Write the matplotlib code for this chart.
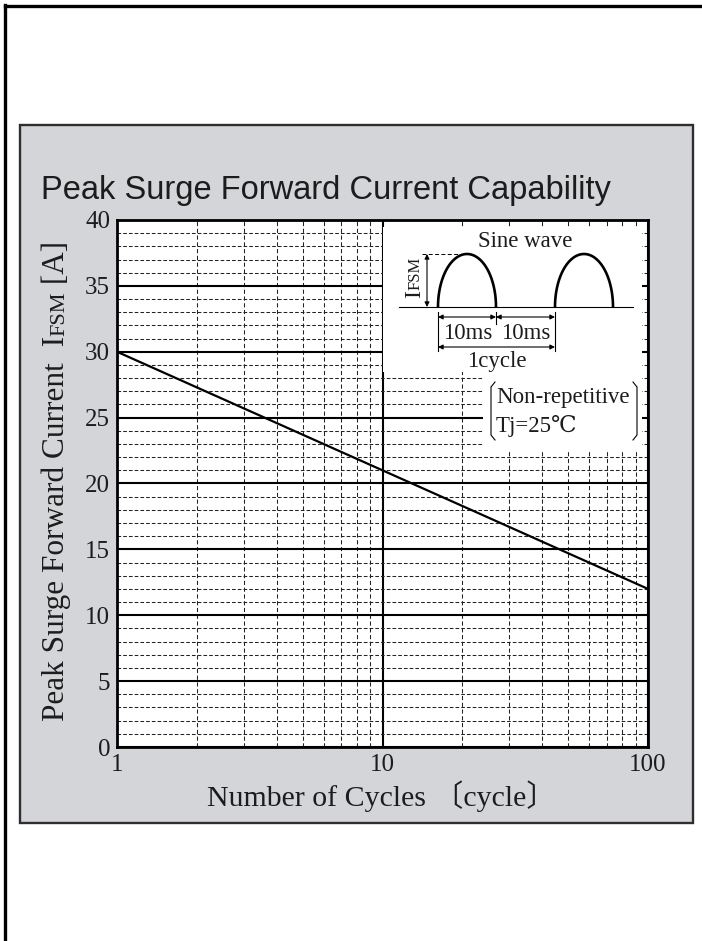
import numpy as np
import matplotlib
matplotlib.use("Agg")
import matplotlib.pyplot as plt
from matplotlib.patches import Rectangle, Polygon
from matplotlib.ticker import LogLocator, MultipleLocator, NullFormatter

# ---------------------------------------------------------------
# chart data
# ---------------------------------------------------------------
cycles = [1, 10, 100]
surge_current = [30.0, 21.0, 12.0]

y_ticks = [0, 5, 10, 15, 20, 25, 30, 35, 40]
x_ticks = [1, 10, 100]
x_tick_labels = ["1", "10", "100"]

title = "Peak Surge Forward Current Capability"
x_label = "Number of Cycles 〔cycle〕"
y_label_parts = ["Peak Surge Forward Current", "  I", "FSM", " [A]"]
note_lines = ["Non-repetitive", "Tj=25℃"]

# ---------------------------------------------------------------
# figure, layers in pixel coordinates
# ---------------------------------------------------------------
W, H = 702, 941
SERIF = ["Liberation Serif", "DejaVu Serif", "Noto Sans CJK JP"]
INK = "#1c1c1c"

fig = plt.figure(figsize=(W / 100, H / 100), dpi=100)
fig.patch.set_facecolor("white")

bg = fig.add_axes([0, 0, 1, 1], zorder=0)
bg.set_xlim(0, W)
bg.set_ylim(H, 0)
bg.axis("off")
bg.add_patch(Rectangle((20, 125), 673, 698, facecolor="#d3d5d8",
                       edgecolor="#2e2e2e", lw=1.7))
bg.plot([5, 5], [5, H], color="k", lw=2.4, solid_capstyle="projecting")
bg.plot([5, W], [6, 6], color="k", lw=2.4, solid_capstyle="projecting")

# main plot
ax = fig.add_axes([117 / W, 1 - 747 / H, (648 - 117) / W, (747 - 220) / H], zorder=1)
ax.set_facecolor("white")
ax.set_xscale("log")
ax.set_xlim(1, 100)
ax.set_ylim(0, 40)
ax.plot(cycles, surge_current, color="k", lw=1.6, zorder=3)

ax.set_xticks(x_ticks, labels=x_tick_labels)
ax.xaxis.set_minor_locator(LogLocator(base=10, subs=np.arange(2, 10)))
ax.xaxis.set_minor_formatter(NullFormatter())
ax.set_yticks(y_ticks)
ax.yaxis.set_minor_locator(MultipleLocator(1))
ax.tick_params(which="both", length=0, colors=INK)
ax.tick_params(axis="y", pad=5, labelsize=18)
ax.tick_params(axis="x", pad=5, labelsize=18)
for lab in ax.get_xticklabels() + ax.get_yticklabels():
    lab.set_fontfamily(SERIF)

ax.grid(which="major", axis="both", color="k", lw=1.5, ls="-")
ax.grid(which="minor", axis="y", color="#222222", lw=0.75, ls=(0, (3.5, 2)))
ax.grid(which="minor", axis="x", color="#222222", lw=0.75, ls=(0, (4, 2.5)))
for s in ax.spines.values():
    s.set_linewidth(2.0)
    s.set_color("k")

# overlay: titles, labels and the waveform inset
ov = fig.add_axes([0, 0, 1, 1], zorder=2)
ov.set_xlim(0, W)
ov.set_ylim(H, 0)
ov.axis("off")
ov.patch.set_visible(False)
renderer = fig.canvas.get_renderer()


def vertical_text(x, y, parts, sizes):
    # writes pieces bottom-to-top, each starting where the last ended
    for txt, size in zip(parts, sizes):
        t = ov.text(x, y, txt, rotation=90, rotation_mode="anchor",
                    ha="left", va="baseline", fontsize=size,
                    family=SERIF, color=INK)
        y -= t.get_window_extent(renderer).height


ov.text(41, 199, title, fontsize=23.5, family="Liberation Sans",
        ha="left", va="baseline", color=INK)
ov.text(382, 806, x_label, fontsize=21.5, family=SERIF,
        ha="center", va="baseline", color=INK)
vertical_text(64, 721, y_label_parts, [22.5, 22.5, 16, 22.5])

# white box behind the inset
ov.add_patch(Polygon([(383, 227), (642, 227), (642, 450), (483, 450),
                      (483, 372), (383, 372)], closed=True,
                     facecolor="white", edgecolor="none"))

ov.text(525, 247, "Sine wave", fontsize=16.5, family=SERIF,
        ha="center", va="baseline", color=INK)

base_y, amp, half_w = 307, 53, 29
t = np.linspace(0, np.pi, 80)
for cx in (467, 584):
    ov.plot(cx - half_w * np.cos(t), base_y - amp * np.sin(t),
            color="k", lw=1.9, solid_capstyle="butt")
ov.plot([399, 633], [base_y, base_y], color="k", lw=0.8)
ov.plot([422, 467], [base_y - amp, base_y - amp], color="k", lw=0.7,
        ls=(0, (4, 2.5)))

arrow = dict(arrowstyle="<|-|>", lw=0.8, color="k", shrinkA=0, shrinkB=0,
             mutation_scale=7)
ov.annotate("", xy=(427, base_y - amp), xytext=(427, base_y), arrowprops=arrow)
vertical_text(420, 298, ["I", "FSM"], [17, 12])

for xx, y0, y1 in [(438, 312, 351), (496, 312, 324), (555, 312, 351)]:
    ov.plot([xx, xx], [y0, y1], color="k", lw=0.8)
ov.annotate("", xy=(438, 317), xytext=(496, 317), arrowprops=arrow)
ov.annotate("", xy=(496, 317), xytext=(555, 317), arrowprops=arrow)
ov.annotate("", xy=(438, 347), xytext=(555, 347), arrowprops=arrow)
ov.text(468, 339, "10ms", fontsize=16.5, family=SERIF, ha="center",
        va="baseline", color=INK)
ov.text(526, 339, "10ms", fontsize=16.5, family=SERIF, ha="center",
        va="baseline", color=INK)
ov.text(497, 367, "1cycle", fontsize=16.5, family=SERIF, ha="center",
        va="baseline", color=INK)

# bracketed note
ov.plot([495, 491, 491, 495], [382, 387, 435, 440], color="k", lw=0.8)
ov.plot([633, 637, 637, 633], [382, 387, 435, 440], color="k", lw=0.8)
ov.text(496, 403, note_lines[0], fontsize=16.5, family=SERIF, ha="left",
        va="baseline", color=INK)
ov.text(496, 432, note_lines[1], fontsize=16.5, family=SERIF, ha="left",
        va="baseline", color=INK)

fig.savefig("out.png", dpi=100)
